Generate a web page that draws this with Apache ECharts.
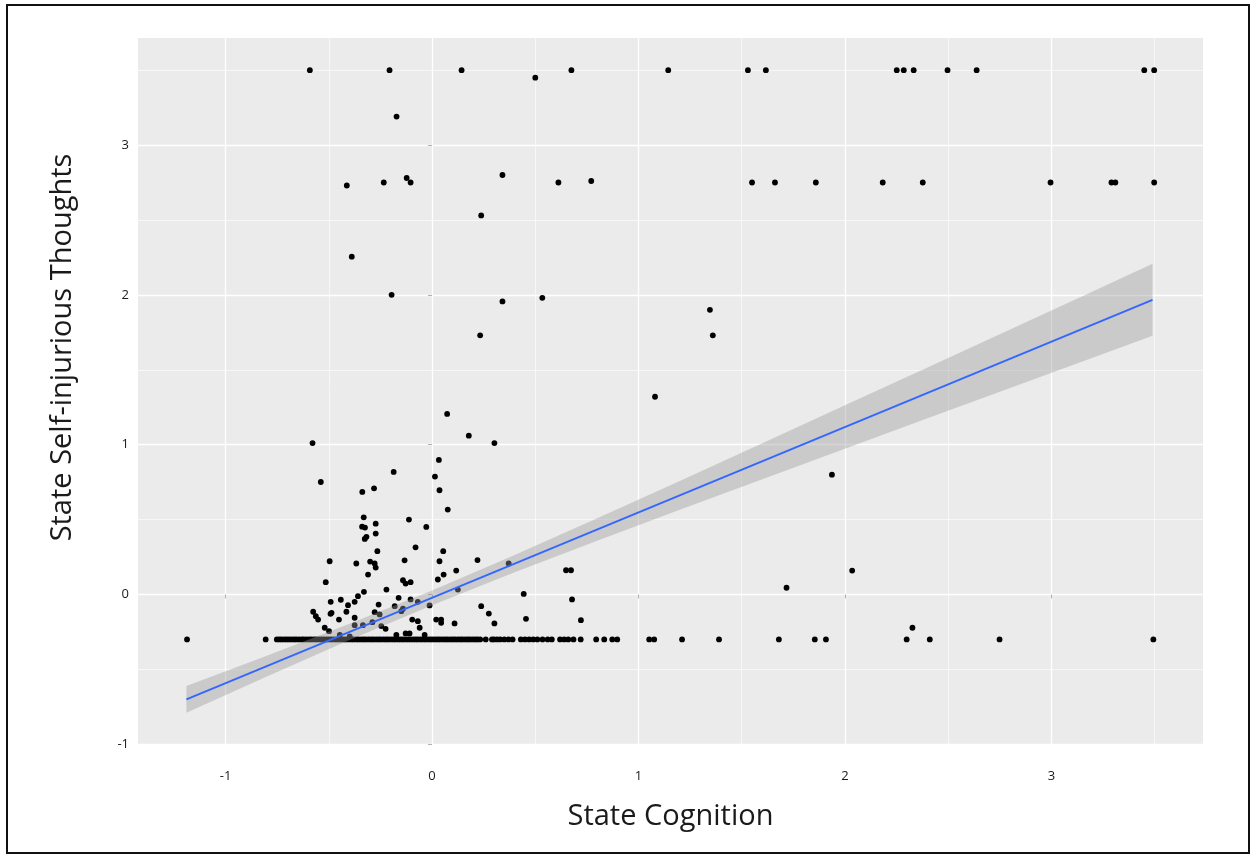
<!DOCTYPE html>
<html lang="en">

<head>
    <meta charset="UTF-8">
    <title>State Cognition vs State Self-injurious Thoughts</title>
    <style>
        body {
            margin: 0;
            background: #fff;
        }

        #main {
            position: absolute;
            left: 0;
            top: 0;
            width: 1255px;
            height: 860px;
        }

        .frame {
            position: absolute;
            left: 6px;
            top: 4px;
            width: 1240px;
            height: 846px;
            border: 2px solid #111;
            pointer-events: none;
        }
    </style>
    <script src="https://cdnjs.cloudflare.com/ajax/libs/echarts/6.0.0/echarts.min.js"></script>
</head>

<body>
    <div id="main"></div>
    <div class="frame"></div>
    <script>
        // tick breaks (ggplot style: majors + minors)
        const xTicks = [-1, 0, 1, 2, 3];
        const yTicks = [-1, 0, 1, 2, 3];
        const xMinor = [-0.5, 0.5, 1.5, 2.5, 3.5];
        const yMinor = [-0.5, 0.5, 1.5, 2.5, 3.5];

        // points sitting on the top value (3.5)
        const topRowY = 3.5;
        const topRowX = [-0.592, -0.206, 0.143, 0.675, 1.144, 1.530, 1.617, 2.251, 2.285, 2.333, 2.497, 2.638, 3.450, 3.498];

        // points on the 2.75 row
        const midRowY = 2.75;
        const midRowX = [-0.234, -0.104, 0.612, 1.550, 1.661, 1.859, 2.183, 2.377, 2.996, 3.291, 3.310, 3.498];

        // points on the floor value (-0.3)
        const floorY = -0.3;
        const floorX = [-1.187, -0.806,
            -0.752, -0.740, -0.729, -0.716, -0.704, -0.693, -0.680, -0.668, -0.657, -0.644, -0.631, -0.621,
            -0.608, -0.595, -0.584, -0.571, -0.560, -0.547, -0.535, -0.524, -0.511, -0.499, -0.488, -0.475,
            -0.463, -0.452, -0.439, -0.427, -0.416, -0.403, -0.391, -0.380, -0.367, -0.356, -0.343, -0.331,
            -0.320, -0.307, -0.295, -0.284, -0.271, -0.259, -0.248, -0.235, -0.223, -0.212, -0.199, -0.187,
            -0.176, -0.163, -0.151, -0.140, -0.127, -0.115, -0.104, -0.091, -0.079, -0.068, -0.055, -0.043,
            -0.032, -0.019, -0.007, 0.004, 0.017, 0.029, 0.040, 0.053, 0.065, 0.076, 0.089, 0.101, 0.112,
            0.125, 0.137, 0.148, 0.161, 0.173, 0.184, 0.197, 0.209, 0.220, 0.233,
            0.26, 0.29, 0.30, 0.315, 0.33, 0.35, 0.37, 0.39, 0.43, 0.45, 0.47, 0.49, 0.51, 0.535, 0.56, 0.58,
            0.62, 0.64, 0.66, 0.685, 0.72, 0.795, 0.834, 0.873, 0.897, 1.052, 1.076, 1.211, 1.39,
            1.68, 1.854, 1.908, 2.299, 2.411, 2.749, 3.494];

        // all the other points [x, y]
        const otherPts = [
            [0.500, 3.45], [-0.172, 3.19], [-0.413, 2.73], [-0.123, 2.78], [0.341, 2.80], [0.771, 2.76],
            [0.238, 2.53], [-0.389, 2.255], [-0.196, 2.00], [0.341, 1.956], [0.534, 1.98], [0.233, 1.73],
            [1.346, 1.90], [1.360, 1.73], [1.080, 1.32], [0.073, 1.205], [0.178, 1.06], [-0.579, 1.011],
            [0.302, 1.011], [-0.539, 0.751], [-0.186, 0.818], [-0.338, 0.685], [-0.281, 0.709],
            [0.033, 0.898], [0.014, 0.787], [0.036, 0.696], [0.076, 0.567], [-0.331, 0.515],
            [-0.339, 0.453], [-0.325, 0.447], [-0.273, 0.473], [-0.326, 0.371], [-0.318, 0.385],
            [-0.273, 0.407], [-0.112, 0.50], [-0.028, 0.451], [-0.08, 0.315], [-0.265, 0.289],
            [0.054, 0.289], [1.937, 0.80], [1.717, 0.045], [2.035, 0.16], [2.327, -0.222],
            [-0.496, 0.222], [-0.367, 0.207], [-0.30, 0.22], [-0.278, 0.207], [-0.273, 0.18],
            [-0.31, 0.133], [-0.515, 0.082], [-0.133, 0.228], [0.036, 0.222], [0.22, 0.23],
            [0.028, 0.10], [0.056, 0.133], [0.117, 0.16], [0.371, 0.207], [0.649, 0.162], [0.673, 0.162],
            [-0.141, 0.095], [-0.128, 0.073], [-0.104, 0.082], [-0.221, 0.033], [-0.33, 0.018],
            [-0.359, -0.011], [-0.375, -0.049], [-0.491, -0.049], [-0.442, -0.035], [-0.407, -0.071],
            [-0.415, -0.115], [-0.487, -0.122], [-0.492, -0.129], [-0.576, -0.115], [-0.563, -0.145],
            [-0.552, -0.167], [-0.451, -0.167], [-0.52, -0.222], [-0.499, -0.245], [-0.375, -0.155],
            [-0.375, -0.205], [-0.335, -0.205], [-0.278, -0.118], [-0.254, -0.133], [-0.289, -0.185],
            [-0.246, -0.211], [-0.225, -0.229], [-0.259, -0.067], [-0.181, -0.078], [-0.162, -0.022],
            [-0.149, -0.111], [-0.141, -0.095], [-0.104, -0.033], [-0.069, -0.049], [-0.096, -0.167],
            [-0.069, -0.178], [-0.06, -0.222], [-0.012, -0.073], [0.02, -0.167], [0.044, -0.189],
            [0.044, -0.167], [0.109, -0.193], [0.125, 0.033], [0.238, -0.078], [0.275, -0.127],
            [0.302, -0.193], [0.444, 0.004], [0.455, -0.162], [0.678, -0.033], [0.721, -0.171],
            [-0.447, -0.27], [-0.399, -0.28], [-0.173, -0.27], [-0.128, -0.26], [-0.109, -0.26],
            [-0.036, -0.27]
        ];

        // fitted line and its confidence band
        const lineX = [-1.19, 3.49];
        const lineY = [-0.70, 1.967];
        const bandX = [-1.19, -0.8, -0.4, 0, 0.4, 0.8, 1.2, 1.6, 2.0, 2.4, 2.8, 3.2, 3.49];
        const bandLo = [-0.79, -0.548, -0.304, -0.071, 0.149, 0.359, 0.566, 0.770, 0.973, 1.176, 1.379, 1.581, 1.727];
        const bandHi = [-0.61, -0.408, -0.196, 0.027, 0.263, 0.509, 0.758, 1.010, 1.263, 1.516, 1.769, 2.023, 2.207];

        const chart = echarts.init(document.getElementById('main'));

        const points = []
            .concat(topRowX.map(x => [x, topRowY]))
            .concat(midRowX.map(x => [x, midRowY]))
            .concat(floorX.map(x => [x, floorY]))
            .concat(otherPts);

        const minorLines = xMinor.map(v => ({ xAxis: v })).concat(yMinor.map(v => ({ yAxis: v })));

        const option = {
            animation: false,
            textStyle: { fontFamily: 'Open Sans' },
            grid: {
                left: 138,
                top: 38,
                width: 1065,
                height: 707,
                show: true,
                backgroundColor: '#EBEBEB',
                borderWidth: 0
            },
            xAxis: {
                type: 'value',
                min: -1.4245,
                max: 3.7345,
                name: 'State Cognition',
                nameLocation: 'middle',
                nameGap: 57,
                nameTextStyle: { fontSize: 29, color: '#1a1a1a' },
                axisLine: { show: false },
                axisTick: { show: true, customValues: xTicks, length: 4, lineStyle: { color: '#b0b0b0' } },
                axisLabel: { customValues: xTicks, margin: 25, fontSize: 13, color: '#1a1a1a' },
                splitLine: { show: true, lineStyle: { color: '#ffffff', width: 1.3 } }
            },
            yAxis: {
                type: 'value',
                min: -1.0045,
                max: 3.7145,
                name: 'State Self-injurious Thoughts',
                nameLocation: 'middle',
                nameGap: 61,
                // shift the title up a little, as in the source figure
                nameTextStyle: { fontSize: 29, color: '#1a1a1a', padding: [0, 0, 0, 88] },
                axisLine: { show: false },
                axisTick: { show: true, customValues: yTicks, length: 4, lineStyle: { color: '#b0b0b0' } },
                axisLabel: { customValues: yTicks, margin: 9, fontSize: 13, color: '#1a1a1a' },
                splitLine: { show: true, lineStyle: { color: '#ffffff', width: 1.3 } }
            },
            series: [
                {
                    name: 'points',
                    type: 'scatter',
                    z: 6,
                    symbolSize: 5.8,
                    itemStyle: { color: '#000', opacity: 1 },
                    data: points
                },
                {
                    name: 'band',
                    type: 'custom',
                    z: 7,
                    silent: true,
                    data: bandX.map((x, i) => [x, bandLo[i], bandHi[i]]),
                    encode: { x: 0, y: [1, 2] },
                    renderItem: function (params, api) {
                        if (params.dataIndex !== 0) return;
                        const pts = [];
                        for (let i = 0; i < bandX.length; i++) pts.push(api.coord([bandX[i], bandHi[i]]));
                        for (let i = bandX.length - 1; i >= 0; i--) pts.push(api.coord([bandX[i], bandLo[i]]));
                        return {
                            type: 'polygon',
                            shape: { points: pts },
                            style: { fill: 'rgba(153,153,153,0.4)' }
                        };
                    }
                },
                {
                    name: 'fit',
                    type: 'line',
                    z: 8,
                    symbol: 'none',
                    lineStyle: { color: '#3366FF', width: 1.8 },
                    data: lineX.map((x, i) => [x, lineY[i]]),
                    markLine: {
                        silent: true,
                        symbol: 'none',
                        label: { show: false },
                        lineStyle: { color: '#ffffff', width: 0.6, type: 'solid' },
                        emphasis: { disabled: true },
                        data: minorLines
                    }
                }
            ]
        };

        chart.setOption(option);
    </script>
</body>

</html>
